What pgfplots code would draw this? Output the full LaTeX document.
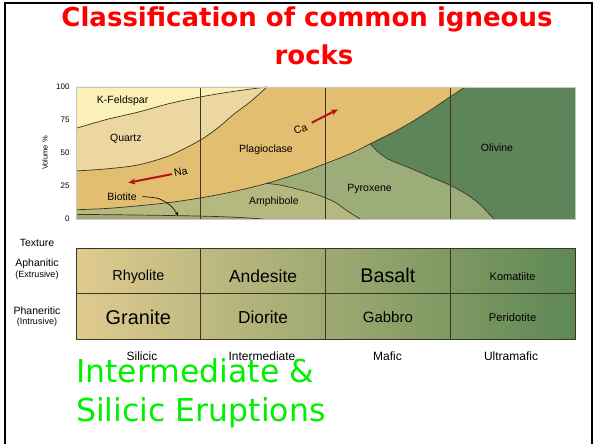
\documentclass[border=0pt]{standalone}
\usepackage{fontspec}
\setmainfont{Liberation Sans}
\newfontfamily\slidefont{DejaVu Sans}
\usepackage{pgfplots}
\pgfplotsset{compat=1.18}
\usetikzlibrary{arrows.meta}

\definecolor{kfeld}{HTML}{FAF0B8}
\definecolor{quartz}{HTML}{ECD7A0}
\definecolor{plag}{HTML}{E2BE70}
\definecolor{amph}{HTML}{B6B97F}
\definecolor{biot}{HTML}{A4AA78}
\definecolor{pyrox}{HTML}{9CAD7A}
\definecolor{oliv}{HTML}{5E845A}
\definecolor{edge}{HTML}{3A3524}
\definecolor{arrowred}{HTML}{B5121B}
\definecolor{tabA}{HTML}{E0CB90}
\definecolor{tabB}{HTML}{AAB274}
\definecolor{tabC}{HTML}{5D8854}
\definecolor{slidegreen}{HTML}{00F000}

\newcommand{\lab}{\fontsize{10.5}{12}\selectfont}

\begin{document}
\begin{tikzpicture}
\useasboundingbox (0pt,0pt) rectangle (595pt,444pt);
\draw[line width=2pt] (5pt,-5pt) -- (5pt,441pt) -- (592pt,441pt) -- (592pt,-5pt);

% title
\node[anchor=base, text=red, font=\slidefont\bfseries\fontsize{26}{30}\selectfont, inner sep=0pt]
  at (307pt,417pt) {Classification of common igneous};
\node[anchor=base, text=red, font=\slidefont\bfseries\fontsize{26}{30}\selectfont, inner sep=0pt]
  at (314pt,379pt) {rocks};

% mineral composition diagram
\begin{axis}[
    at={(76pt,225pt)}, anchor=south west,
    scale only axis, width=499pt, height=132pt,
    xmin=0, xmax=4, ymin=0, ymax=100,
    xtick=\empty, ytick={0,25,50,75,100},
    major tick length=0pt,
    /pgf/number format/assume math mode=true,
    tick label style={font=\fontsize{8}{9}\selectfont},
    yticklabel style={xshift=-3pt},
    ylabel={Volume \%},
    label style={font=\fontsize{7.5}{9}\selectfont},
    ylabel style={at={(axis description cs:-0.062,0.5)}, anchor=center},
    axis line style={gray!45},
    axis on top,
]
% regions
\addplot[draw=none, fill=oliv] coordinates {(0,0)(4,0)(4,100)(0,100)};
\addplot[draw=none, fill=pyrox] coordinates {(0,0)(3.35,0)(3.3,5)(3.25,10)(3.18,15.5)(3.1,20.5)(2.99,26)(2.85,31.5)(2.68,38.5)(2.6,41.5)(2.5,45.5)(2.42,51)(2.36,57)(0,57)};
\addplot[draw=none, fill=plag] coordinates {(0,7)(0.25,8)(0.5,10)(0.75,12.5)(1,16)(1.25,20.5)(1.53,27)(1.8,35)(2,42)(2.2,49.5)(2.36,57)(2.55,66)(2.7,74)(2.85,83)(2.99,92)(3.12,100)(0,100)};
\addplot[draw=none, fill=quartz] coordinates {(0,36.4)(0.25,38)(0.5,41)(0.75,48)(1,60)(1.15,70)(1.26,79)(1.4,89)(1.53,100)(0,100)};
\addplot[draw=none, fill=kfeld] coordinates {(0,68.7)(0.25,75.5)(0.5,81)(0.75,87.5)(1,92.5)(1.25,96.5)(1.53,100)(0,100)};
\addplot[draw=none, fill=amph] coordinates {(0,3.5)(0.5,3)(1,2.2)(1.3,1.2)(1.5,0)(2.28,0)(2.2,4.5)(2.14,8.5)(2.08,12.5)(2,16)(1.9,19.5)(1.8,22)(1.65,25.5)(1.53,27)(1.25,20.5)(1,16)(0.75,12.5)(0.5,10)(0.25,8)(0,7)};
\addplot[draw=none, fill=biot] coordinates {(0,0)(1.5,0)(1.3,1.2)(1,2.2)(0.5,3)(0,3.5)};

% boundaries
\addplot[edge, line width=0.7pt, smooth] coordinates {(0,68.7)(0.25,75.5)(0.5,81)(0.75,87.5)(1,92.5)(1.25,96.5)(1.53,100)};
\addplot[edge, line width=0.7pt, smooth] coordinates {(0,36.4)(0.25,38)(0.5,41)(0.75,48)(1,60)(1.15,70)(1.26,79)(1.4,89)(1.53,100)};
\addplot[edge, line width=0.7pt, smooth] coordinates {(0,7)(0.25,8)(0.5,10)(0.75,12.5)(1,16)(1.25,20.5)(1.53,27)(1.8,35)(2,42)(2.2,49.5)(2.36,57)(2.55,66)(2.7,74)(2.85,83)(2.99,92)(3.12,100)};
\addplot[edge, line width=0.7pt, smooth] coordinates {(1.53,27)(1.65,25.5)(1.8,22)(1.9,19.5)(2,16)(2.08,12.5)(2.14,8.5)(2.2,4.5)(2.28,0)};
\addplot[edge, line width=0.7pt, smooth] coordinates {(0,3.5)(0.5,3)(1,2.2)(1.3,1.2)(1.5,0)};
\addplot[edge, line width=0.7pt, smooth] coordinates {(2.36,57)(2.42,51)(2.5,45.5)(2.6,41.5)(2.68,38.5)(2.85,31.5)(2.99,26)(3.1,20.5)(3.18,15.5)(3.25,10)(3.3,5)(3.35,0)};
\addplot[edge, line width=0.6pt] coordinates {(1,0)(1,100)};
\addplot[edge, line width=0.6pt] coordinates {(2,0)(2,100)};
\addplot[edge, line width=0.6pt] coordinates {(3,0)(3,100)};

% arrows
\addplot[arrowred, line width=2pt, -{Stealth[length=7pt,width=6pt]}] coordinates {(0.77,34)(0.42,27.5)};
\addplot[arrowred, line width=2pt, -{Stealth[length=7pt,width=6pt]}] coordinates {(1.89,73)(2.10,83)};
\addplot[black, line width=0.6pt, smooth, -{Stealth[length=4pt]}] coordinates {(0.53,17)(0.66,15.5)(0.76,10)(0.82,2.5)};

% labels
\node[font=\lab] at (axis cs:0.374,89.4) {K-Feldspar};
\node[font=\lab] at (axis cs:0.40,60.4) {Quartz};
\node[font=\lab] at (axis cs:1.523,52.3) {Plagioclase};
\node[font=\lab, rotate=12] at (axis cs:0.84,35.8) {Na};
\node[font=\lab, rotate=20] at (axis cs:1.80,68) {Ca};
\node[font=\lab] at (axis cs:0.369,16.9) {Biotite};
\node[font=\lab] at (axis cs:1.586,13.1) {Amphibole};
\node[font=\lab] at (axis cs:2.354,22.7) {Pyroxene};
\node[font=\lab] at (axis cs:3.375,54) {Olivine};
\end{axis}

% rock names table
\begin{axis}[
    at={(76pt,104.7pt)}, anchor=south west,
    scale only axis, width=499pt, height=91pt,
    xmin=0, xmax=4, ymin=0, ymax=2,
    xtick=\empty, ytick=\empty,
    axis line style={edge, line width=0.8pt},
    axis on top,
]
\fill[left color=tabA, middle color=tabB, right color=tabC] (axis cs:0,0) rectangle (axis cs:4,2);
\addplot[edge, line width=0.8pt] coordinates {(0,1)(4,1)};
\addplot[edge, line width=0.8pt] coordinates {(1,0)(1,2)};
\addplot[edge, line width=0.8pt] coordinates {(2,0)(2,2)};
\addplot[edge, line width=0.8pt] coordinates {(3,0)(3,2)};
\node[font=\fontsize{14.4}{16}\selectfont] at (axis cs:0.5,1.376) {Rhyolite};
\node[font=\fontsize{17.5}{19}\selectfont] at (axis cs:1.5,1.376) {Andesite};
\node[font=\fontsize{19.8}{22}\selectfont] at (axis cs:2.5,1.41) {Basalt};
\node[font=\fontsize{11}{13}\selectfont] at (axis cs:3.5,1.376) {Komatiite};
\node[font=\fontsize{19.9}{22}\selectfont] at (axis cs:0.5,0.479) {Granite};
\node[font=\fontsize{17.3}{19}\selectfont] at (axis cs:1.5,0.479) {Diorite};
\node[font=\fontsize{15}{17}\selectfont] at (axis cs:2.5,0.479) {Gabbro};
\node[font=\fontsize{11.2}{13}\selectfont] at (axis cs:3.5,0.479) {Peridotite};
\end{axis}

% texture labels
\node[font=\fontsize{10.5}{12}\selectfont] at (37pt,201.3pt) {Texture};
\node[font=\fontsize{10.5}{12}\selectfont] at (37pt,180.7pt) {Aphanitic};
\node[font=\fontsize{9}{10}\selectfont] at (37pt,169pt) {(Extrusive)};
\node[font=\fontsize{10.5}{12}\selectfont] at (37pt,133pt) {Phaneritic};
\node[font=\fontsize{9}{10}\selectfont] at (37pt,122.3pt) {(Intrusive)};

% composition labels
\node[font=\fontsize{12}{14}\selectfont] at (142pt,87.3pt) {Silicic};
\node[font=\fontsize{12}{14}\selectfont] at (262pt,87.3pt) {Intermediate};
\node[font=\fontsize{12}{14}\selectfont] at (387.5pt,87.3pt) {Mafic};
\node[font=\fontsize{12}{14}\selectfont] at (511pt,87.3pt) {Ultramafic};

% green slide text
\node[anchor=base west, inner sep=0pt, text=slidegreen, font=\slidefont\fontsize{31.5}{36}\selectfont]
  at (76pt,61pt) {Intermediate \&};
\node[anchor=base west, inner sep=0pt, text=slidegreen, font=\slidefont\fontsize{31.5}{36}\selectfont]
  at (76pt,22.3pt) {Silicic Eruptions};
\end{tikzpicture}
\end{document}
